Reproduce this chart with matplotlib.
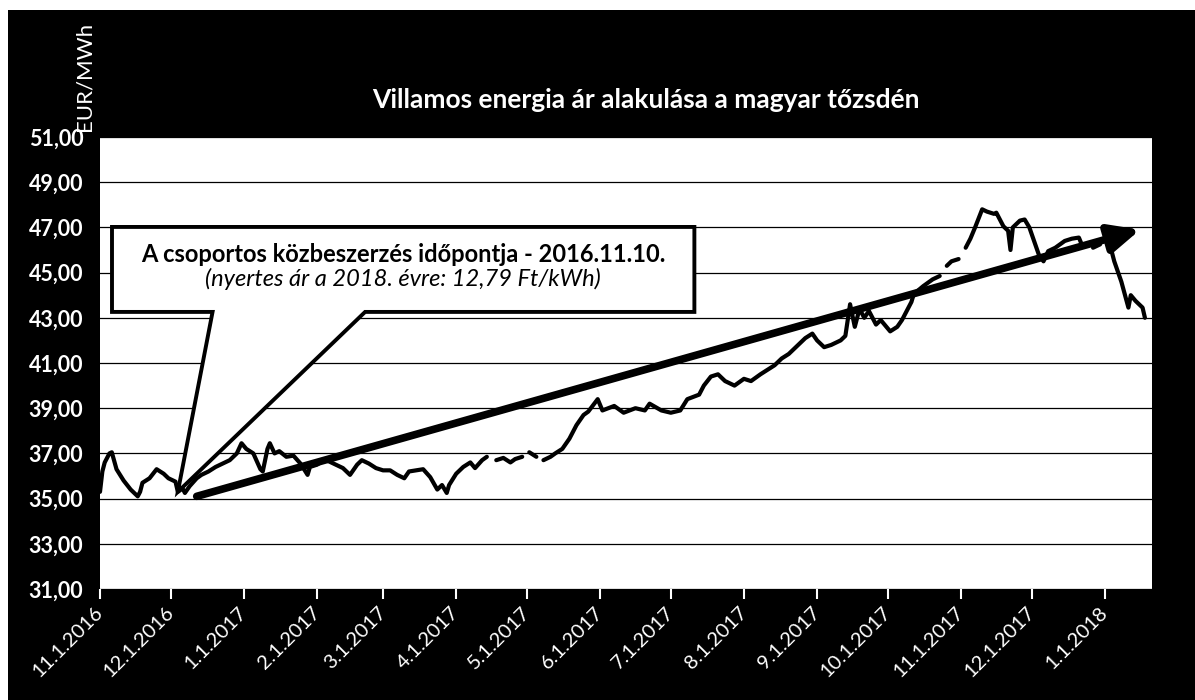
import matplotlib
matplotlib.use("Agg")
import numpy as np
import pandas as pd
import matplotlib.pyplot as plt
import matplotlib.dates as mdates
from matplotlib.patches import Rectangle, Polygon

nan = np.nan

# daily price (nan = gap in the series)
dates = [
    "2016-11-01", "2016-11-02", "2016-11-03", "2016-11-05", "2016-11-06", "2016-11-08", "2016-11-11", "2016-11-14",
    "2016-11-17", "2016-11-18", "2016-11-19", "2016-11-22", "2016-11-25", "2016-11-28", "2016-11-30",
    "2016-12-03", "2016-12-04", "2016-12-06", "2016-12-07", "2016-12-09", "2016-12-12", "2016-12-14", "2016-12-17",
    "2016-12-20", "2016-12-23", "2016-12-26", "2016-12-29", "2016-12-31",
    "2017-01-02", "2017-01-05", "2017-01-08", "2017-01-09", "2017-01-11", "2017-01-12", "2017-01-14", "2017-01-16",
    "2017-01-19", "2017-01-22", "2017-01-25", "2017-01-28", "2017-01-29",
    "2017-02-01", "2017-02-04", "2017-02-06", "2017-02-09", "2017-02-12", "2017-02-15", "2017-02-18", "2017-02-20",
    "2017-02-23", "2017-02-26",
    "2017-03-01", "2017-03-04", "2017-03-07", "2017-03-10", "2017-03-12", "2017-03-15", "2017-03-18", "2017-03-21",
    "2017-03-24", "2017-03-26", "2017-03-28", "2017-03-29",
    "2017-04-01", "2017-04-04", "2017-04-07", "2017-04-09", "2017-04-12", "2017-04-14", "2017-04-16", "2017-04-18",
    "2017-04-21", "2017-04-24", "2017-04-26", "2017-04-29", "2017-04-30",
    "2017-05-02", "2017-05-05", "2017-05-06", "2017-05-08", "2017-05-11", "2017-05-13", "2017-05-16", "2017-05-19",
    "2017-05-22", "2017-05-25", "2017-05-27", "2017-05-31",
    "2017-06-02", "2017-06-07", "2017-06-11", "2017-06-16", "2017-06-20", "2017-06-22", "2017-06-27",
    "2017-07-01", "2017-07-05", "2017-07-08", "2017-07-13", "2017-07-15", "2017-07-18", "2017-07-21", "2017-07-24",
    "2017-07-28",
    "2017-08-01", "2017-08-04", "2017-08-08", "2017-08-11", "2017-08-14", "2017-08-17", "2017-08-20", "2017-08-23",
    "2017-08-27", "2017-08-30",
    "2017-09-01", "2017-09-04", "2017-09-07", "2017-09-11", "2017-09-13", "2017-09-15", "2017-09-17", "2017-09-19",
    "2017-09-21", "2017-09-23", "2017-09-26", "2017-09-28",
    "2017-10-02", "2017-10-05", "2017-10-07", "2017-10-11", "2017-10-12", "2017-10-16", "2017-10-20", "2017-10-23",
    "2017-10-24", "2017-10-26", "2017-10-28", "2017-10-31",
    "2017-11-01", "2017-11-03", "2017-11-05", "2017-11-07", "2017-11-10", "2017-11-12", "2017-11-15", "2017-11-16",
    "2017-11-19", "2017-11-21", "2017-11-22", "2017-11-23", "2017-11-26", "2017-11-28", "2017-11-30",
    "2017-12-02", "2017-12-04", "2017-12-06", "2017-12-08", "2017-12-11", "2017-12-15", "2017-12-18", "2017-12-21",
    "2017-12-22", "2017-12-24", "2017-12-27", "2017-12-30",
    "2018-01-02", "2018-01-04", "2018-01-05", "2018-01-08", "2018-01-11", "2018-01-12", "2018-01-14", "2018-01-17",
    "2018-01-18",
]
prices = [
    35.3, 36.2, 36.6, 37.0, 37.05, 36.3, 35.8, 35.4, 35.1, 35.3, 35.7, 35.9, 36.3, 36.1, 35.9,
    35.75, 35.3, 35.45, 35.25, 35.55, 35.9, 36.05, 36.2, 36.4, 36.55, 36.7, 37.0, 37.45,
    37.2, 37.0, 36.3, 36.2, 37.2, 37.45, 37.0, 37.1, 36.85, 36.9, 36.55, 36.05, 36.4,
    36.5, 36.7, 36.65, 36.5, 36.35, 36.05, 36.5, 36.7, 36.55, 36.35,
    36.25, 36.25, 36.05, 35.9, 36.2, 36.25, 36.3, 35.95, 35.4, 35.6, 35.25, 35.6,
    36.1, 36.4, 36.6, 36.35, 36.7, 36.85, nan, 36.7, 36.8, 36.6, 36.75, 36.85, nan,
    37.05, 36.85, nan, 36.7, 36.85, 37.0, 37.2, 37.65, 38.25, 38.7, 38.85, 39.4,
    38.9, 39.1, 38.8, 39.0, 38.9, 39.2, 38.9,
    38.8, 38.9, 39.4, 39.6, 40.0, 40.4, 40.5, 40.2, 40.0,
    40.3, 40.2, 40.5, 40.7, 40.9, 41.2, 41.4, 41.7, 42.1, 42.3,
    42.0, 41.7, 41.8, 42.0, 42.2, 43.6, 42.6, 43.4, 43.0, 43.3, 42.7, 42.9,
    42.4, 42.6, 42.9, 43.7, 44.05, 44.4, 44.7, 44.85, nan, 45.3, 45.5, 45.6,
    nan, 46.1, 46.5, 47.0, 47.8, 47.7, 47.6, 47.65, 47.05, 46.85, 46.0, 47.0, 47.3, 47.35, 47.0,
    46.4, 45.8, 45.5, 45.95, 46.1, 46.4, 46.5, 46.55, 46.3, nan, 46.1, 46.25,
    nan, 45.9, 45.5, 44.6, 43.45, 44.0, 43.75, 43.45, 43.0,
]

tick_dates = ["2016-11-01", "2016-12-01", "2017-01-01", "2017-02-01", "2017-03-01", "2017-04-01", "2017-05-01",
              "2017-06-01", "2017-07-01", "2017-08-01", "2017-09-01", "2017-10-01", "2017-11-01", "2017-12-01",
              "2018-01-01"]
tick_labels = ["11.1.2016", "12.1.2016", "1.1.2017", "2.1.2017", "3.1.2017", "4.1.2017", "5.1.2017", "6.1.2017",
               "7.1.2017", "8.1.2017", "9.1.2017", "10.1.2017", "11.1.2017", "12.1.2017", "1.1.2018"]
y_ticks = [31, 33, 35, 37, 39, 41, 43, 45, 47, 49, 51]
y_labels = ["31,00", "33,00", "35,00", "37,00", "39,00", "41,00", "43,00", "45,00", "47,00", "49,00", "51,00"]

trend_start = ("2016-12-12", 35.1)
trend_end = ("2018-01-16", 46.9)
tender_point = ("2016-12-04", 35.3)

title = "Villamos energia ár alakulása a magyar tőzsdén"
unit = "EUR/MWh"
note1 = "A csoportos közbeszerzés időpontja - 2016.11.10."
note2 = "(nyertes ár a 2018. évre: 12,79 Ft/kWh)"

plt.rcParams["font.family"] = ["Lato", "DejaVu Sans"]

fig = plt.figure(figsize=(11.95, 7), dpi=100, facecolor="white")
fig.patches.append(Rectangle((8 / 1195, 0), 1, 1 - 10 / 700, transform=fig.transFigure,
                             facecolor="black", edgecolor="none", zorder=-1))
ax = fig.add_axes([100 / 1195, 1 - 589 / 700, 1052 / 1195, 452 / 700])
ax.set_facecolor("white")

x = pd.to_datetime(dates)
ax.plot(x, prices, color="black", lw=3.0, zorder=3, solid_joinstyle="round", solid_capstyle="round")

ax.set_xlim(pd.Timestamp("2016-11-01"), pd.Timestamp("2018-01-21"))
ax.set_ylim(31, 51)
ax.set_yticks(y_ticks, y_labels, fontweight="bold", fontsize=15.5, color="white")
ax.set_xticks(pd.to_datetime(tick_dates), tick_labels, rotation=45, ha="right", va="center",
              rotation_mode="anchor", fontsize=14.5, color="white")
ax.tick_params(axis="y", length=0, pad=12)
ax.tick_params(axis="x", colors="white", length=7, width=1.5, pad=8)
ax.yaxis.grid(True, color="black", lw=0.9)
ax.set_axisbelow(True)
for s in ax.spines.values():
    s.set_visible(False)

# trend arrow
ax.annotate("", xy=(pd.Timestamp(trend_end[0]), trend_end[1]),
            xytext=(pd.Timestamp(trend_start[0]), trend_start[1]),
            arrowprops=dict(arrowstyle="-|>,head_length=0.65,head_width=0.3", color="black", lw=5.5,
                            mutation_scale=28, shrinkA=0, shrinkB=0), zorder=4)

# callout box pointing at the tender date
tip = ax.transAxes.inverted().transform(
    ax.transData.transform((mdates.date2num(pd.Timestamp(tender_point[0])), tender_point[1])))
L, R, T, B = 0.0114, 0.565, 0.801, 0.613
callout = Polygon([(L, T), (R, T), (R, B), (0.252, B), tuple(tip), (0.107, B), (L, B)], closed=True,
                  transform=ax.transAxes, facecolor="white", edgecolor="black", lw=2.8, zorder=2.5,
                  joinstyle="miter")
ax.add_patch(callout)
ax.text(0.288, 0.741, note1, transform=ax.transAxes, ha="center", va="center", fontsize=17,
        fontweight="bold", zorder=6)
ax.text(0.288, 0.686, note2, transform=ax.transAxes, ha="center", va="center", fontsize=17,
        style="italic", zorder=6)

fig.text(0.5406, 0.857, title, color="white", fontsize=19, fontweight="bold", ha="center", va="center")
fig.text(0.0711, 0.891, unit, color="white", fontsize=16, rotation=90, ha="center", va="center")

fig.savefig("out.png", dpi=100, facecolor=fig.get_facecolor())
